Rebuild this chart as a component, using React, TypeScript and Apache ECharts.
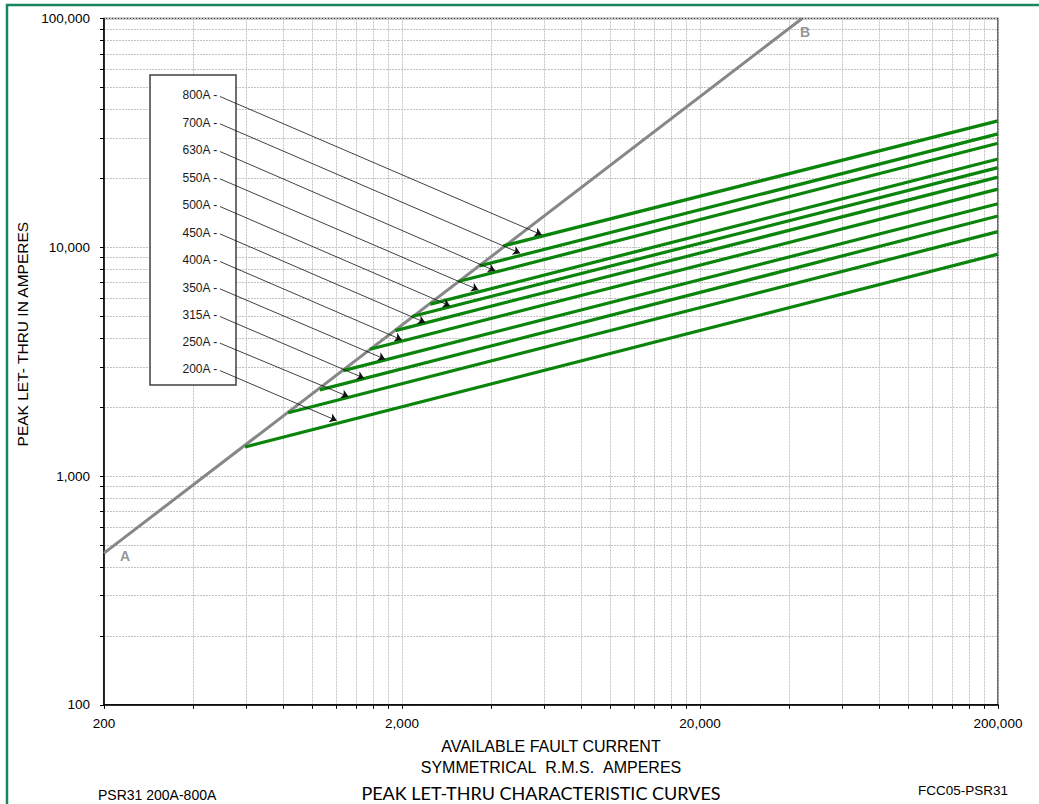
import React, { useEffect, useRef } from 'react';
import * as echarts from 'echarts';

// Fuse ratings (bottom curve to top curve)
const ratings = ['200A', '250A', '315A', '350A', '400A', '450A', '500A', '550A', '630A', '700A', '800A'];
// Start of each curve (where it leaves the A–B line)
const curveStartX = [595, 830, 1060, 1270, 1560, 1900, 2160, 2490, 3090, 3640, 4380];
const curveStartY = [1340, 1890, 2380, 2890, 3580, 4320, 4980, 5640, 7080, 8290, 10140];
// End of each curve at the right edge of the chart
const curveEndX = [200000, 200000, 200000, 200000, 200000, 200000, 200000, 200000, 200000, 200000, 200000];
const curveEndY = [9330, 11700, 13700, 15500, 17950, 20250, 22300, 24300, 28500, 31300, 35700];

// A–B threshold line
const lineABX = [200, 44000];
const lineABY = [460, 100000];
const lineABNames = ['A', 'B'];

// Leader arrows from the label box to each curve
const arrowTailX = [490, 490, 490, 490, 490, 490, 490, 490, 490, 490, 490];
const arrowTailY = [2890, 3808, 4980, 6580, 8660, 11440, 15070, 19910, 26210, 34640, 45600];
const arrowTipX = [1208, 1322, 1492, 1755, 1997, 2392, 2900, 3610, 4108, 4982, 5890];
const arrowTipY = [1747, 2224, 2677, 3241, 3937, 4687, 5543, 6512, 7886, 9424, 11330];

// Axes
const xTickLabels = [200, 2000, 20000, 200000];
const yTickLabels = [100, 1000, 10000, 100000];
const gridMultipliers = [1, 2, 3, 4, 5, 6, 7, 8, 9];

const xTitle = 'AVAILABLE FAULT CURRENT\nSYMMETRICAL\u00a0\u00a0R.M.S.\u00a0\u00a0AMPERES';
const yTitle = 'PEAK LET- THRU IN AMPERES';
const footerLeft = 'PSR31 200A-800A';
const footerCenter = 'PEAK LET-THRU CHARACTERISTIC CURVES';
const footerRight = 'FCC05-PSR31';

const FONT = 'Arial, "Liberation Sans", sans-serif';

function gridValues(decades: number[]): number[] {
  const out: number[] = [];
  for (let i = 0; i < decades.length - 1; i++) {
    for (const m of gridMultipliers) out.push(decades[i] * m);
  }
  out.push(decades[decades.length - 1]);
  return out;
}

export default function App() {
  const ref = useRef<HTMLDivElement>(null);

  useEffect(() => {
    const el = ref.current;
    if (!el) return;
    const chart = echarts.init(el, null, { renderer: 'svg' });
    const fmt = (v: number) => Math.round(v).toLocaleString('en-US');
    const xGrid = gridValues(xTickLabels);
    const yGrid = gridValues(yTickLabels);
    const gridLine = { color: '#c2c2c2', width: 1, type: [2, 1] as any };

    const curveSeries = ratings.map((r, i) => ({
      name: r,
      type: 'line',
      z: 3,
      symbol: 'none',
      silent: true,
      lineStyle: { color: '#0a840a', width: 3.2 },
      data: [
        [curveStartX[i], curveStartY[i]],
        [curveEndX[i], curveEndY[i]],
      ],
    }));

    chart.setOption({
      animation: false,
      backgroundColor: '#ffffff',
      grid: {
        left: 104,
        top: 18.5,
        width: 894,
        height: 686.3,
        show: true,
        borderColor: '#3a3a3a',
        borderWidth: 1.5,
        backgroundColor: '#ffffff',
        containLabel: false,
        outerBoundsMode: 'none',
      },
      xAxis: {
        type: 'log',
        logBase: 10,
        min: 200,
        max: 200000,
        name: xTitle,
        nameLocation: 'middle',
        nameGap: 29,
        nameTextStyle: { fontFamily: FONT, fontSize: 16, lineHeight: 21, color: '#000' },
        axisLine: { show: true, onZero: false, lineStyle: { color: '#000', width: 1.5 } },
        axisTick: { show: true, inside: false, length: 4, customValues: xGrid, lineStyle: { color: '#000', width: 1 } },
        axisLabel: {
          customValues: xTickLabels,
          formatter: fmt,
          margin: 12,
          fontFamily: FONT,
          fontSize: 13.5,
          color: '#000',
          showMinLabel: true,
          showMaxLabel: true,
        },
        splitLine: { show: true, lineStyle: gridLine },
        minorTick: { show: false },
        minorSplitLine: { show: false },
      },
      yAxis: {
        type: 'log',
        logBase: 10,
        min: 100,
        max: 100000,
        name: yTitle,
        nameLocation: 'middle',
        nameRotate: 90,
        nameGap: 74,
        nameTextStyle: { fontFamily: FONT, fontSize: 15.5, color: '#000', padding: [0, 0, 0, 55] },
        axisLine: { show: true, onZero: false, lineStyle: { color: '#000', width: 1.5 } },
        axisTick: { show: true, inside: false, length: 4, customValues: yGrid, lineStyle: { color: '#000', width: 1 } },
        axisLabel: {
          customValues: yTickLabels,
          formatter: fmt,
          margin: 14,
          fontFamily: FONT,
          fontSize: 13.5,
          color: '#000',
          showMinLabel: true,
          showMaxLabel: true,
        },
        splitLine: { show: true, lineStyle: gridLine },
        minorTick: { show: false },
        minorSplitLine: { show: false },
      },
      series: [
        {
          name: 'A-B',
          type: 'line',
          z: 2,
          symbol: 'none',
          silent: true,
          lineStyle: { color: '#878787', width: 3 },
          data: lineABX.map((x, i) => [x, lineABY[i]]),
        },
        {
          name: 'A-B labels',
          type: 'scatter',
          z: 4,
          symbol: 'circle',
          symbolSize: 2,
          silent: true,
          itemStyle: { color: 'rgba(0,0,0,0)' },
          data: lineABX.map((x, i) => ({
            value: [x, lineABY[i]],
            name: lineABNames[i],
            label: {
              show: true,
              formatter: lineABNames[i],
              position: i === 0 ? 'right' : 'bottom',
              offset: i === 0 ? [10, 3] : [3, 0],
              color: '#7a7a7a',
              fontWeight: 'bold',
              fontSize: 14,
              fontFamily: FONT,
            },
          })),
        },
        ...curveSeries,
        {
          name: 'leaders',
          type: 'lines',
          coordinateSystem: 'cartesian2d',
          z: 5,
          silent: true,
          symbol: ['none', 'arrow'],
          symbolSize: 7,
          lineStyle: { color: '#111', width: 0.8, opacity: 1 },
          label: {
            show: true,
            position: 'start',
            distance: 3,
            formatter: (p: any) => p.name + ' -',
            fontFamily: FONT,
            fontSize: 12,
            color: '#1a1a1a',
          },
          data: ratings.map((r, i) => ({
            name: r,
            coords: [
              [arrowTailX[i], arrowTailY[i]],
              [arrowTipX[i], arrowTipY[i]],
            ],
          })),
        },
      ],
      graphic: [
        {
          type: 'rect',
          z: 1,
          shape: { x: 150, y: 75, width: 86, height: 310 },
          style: { fill: '#ffffff', stroke: '#404040', lineWidth: 1.5 },
        },
        {
          type: 'polyline',
          z: 10,
          shape: { points: [[7, 804], [7, 5], [1039, 5]] },
          style: { stroke: '#16875a', lineWidth: 2.5, fill: null },
        },
        {
          type: 'text',
          x: 98,
          y: 795,
          style: { text: footerLeft, font: `14px ${FONT}`, fill: '#000', align: 'left', verticalAlign: 'middle' },
        },
        {
          type: 'text',
          x: 541,
          y: 793,
          style: { text: footerCenter, font: `18px Lato, "Open Sans", sans-serif`, fill: '#000', align: 'center', verticalAlign: 'middle' },
        },
        {
          type: 'text',
          x: 963,
          y: 790,
          style: { text: footerRight, font: `13.5px ${FONT}`, fill: '#000', align: 'center', verticalAlign: 'middle' },
        },
      ],
    });

    return () => chart.dispose();
  }, []);

  return (
    <div
      ref={ref}
      style={{ position: 'fixed', left: 0, top: 0, width: 1039, height: 804, background: '#fff' }}
    />
  );
}
